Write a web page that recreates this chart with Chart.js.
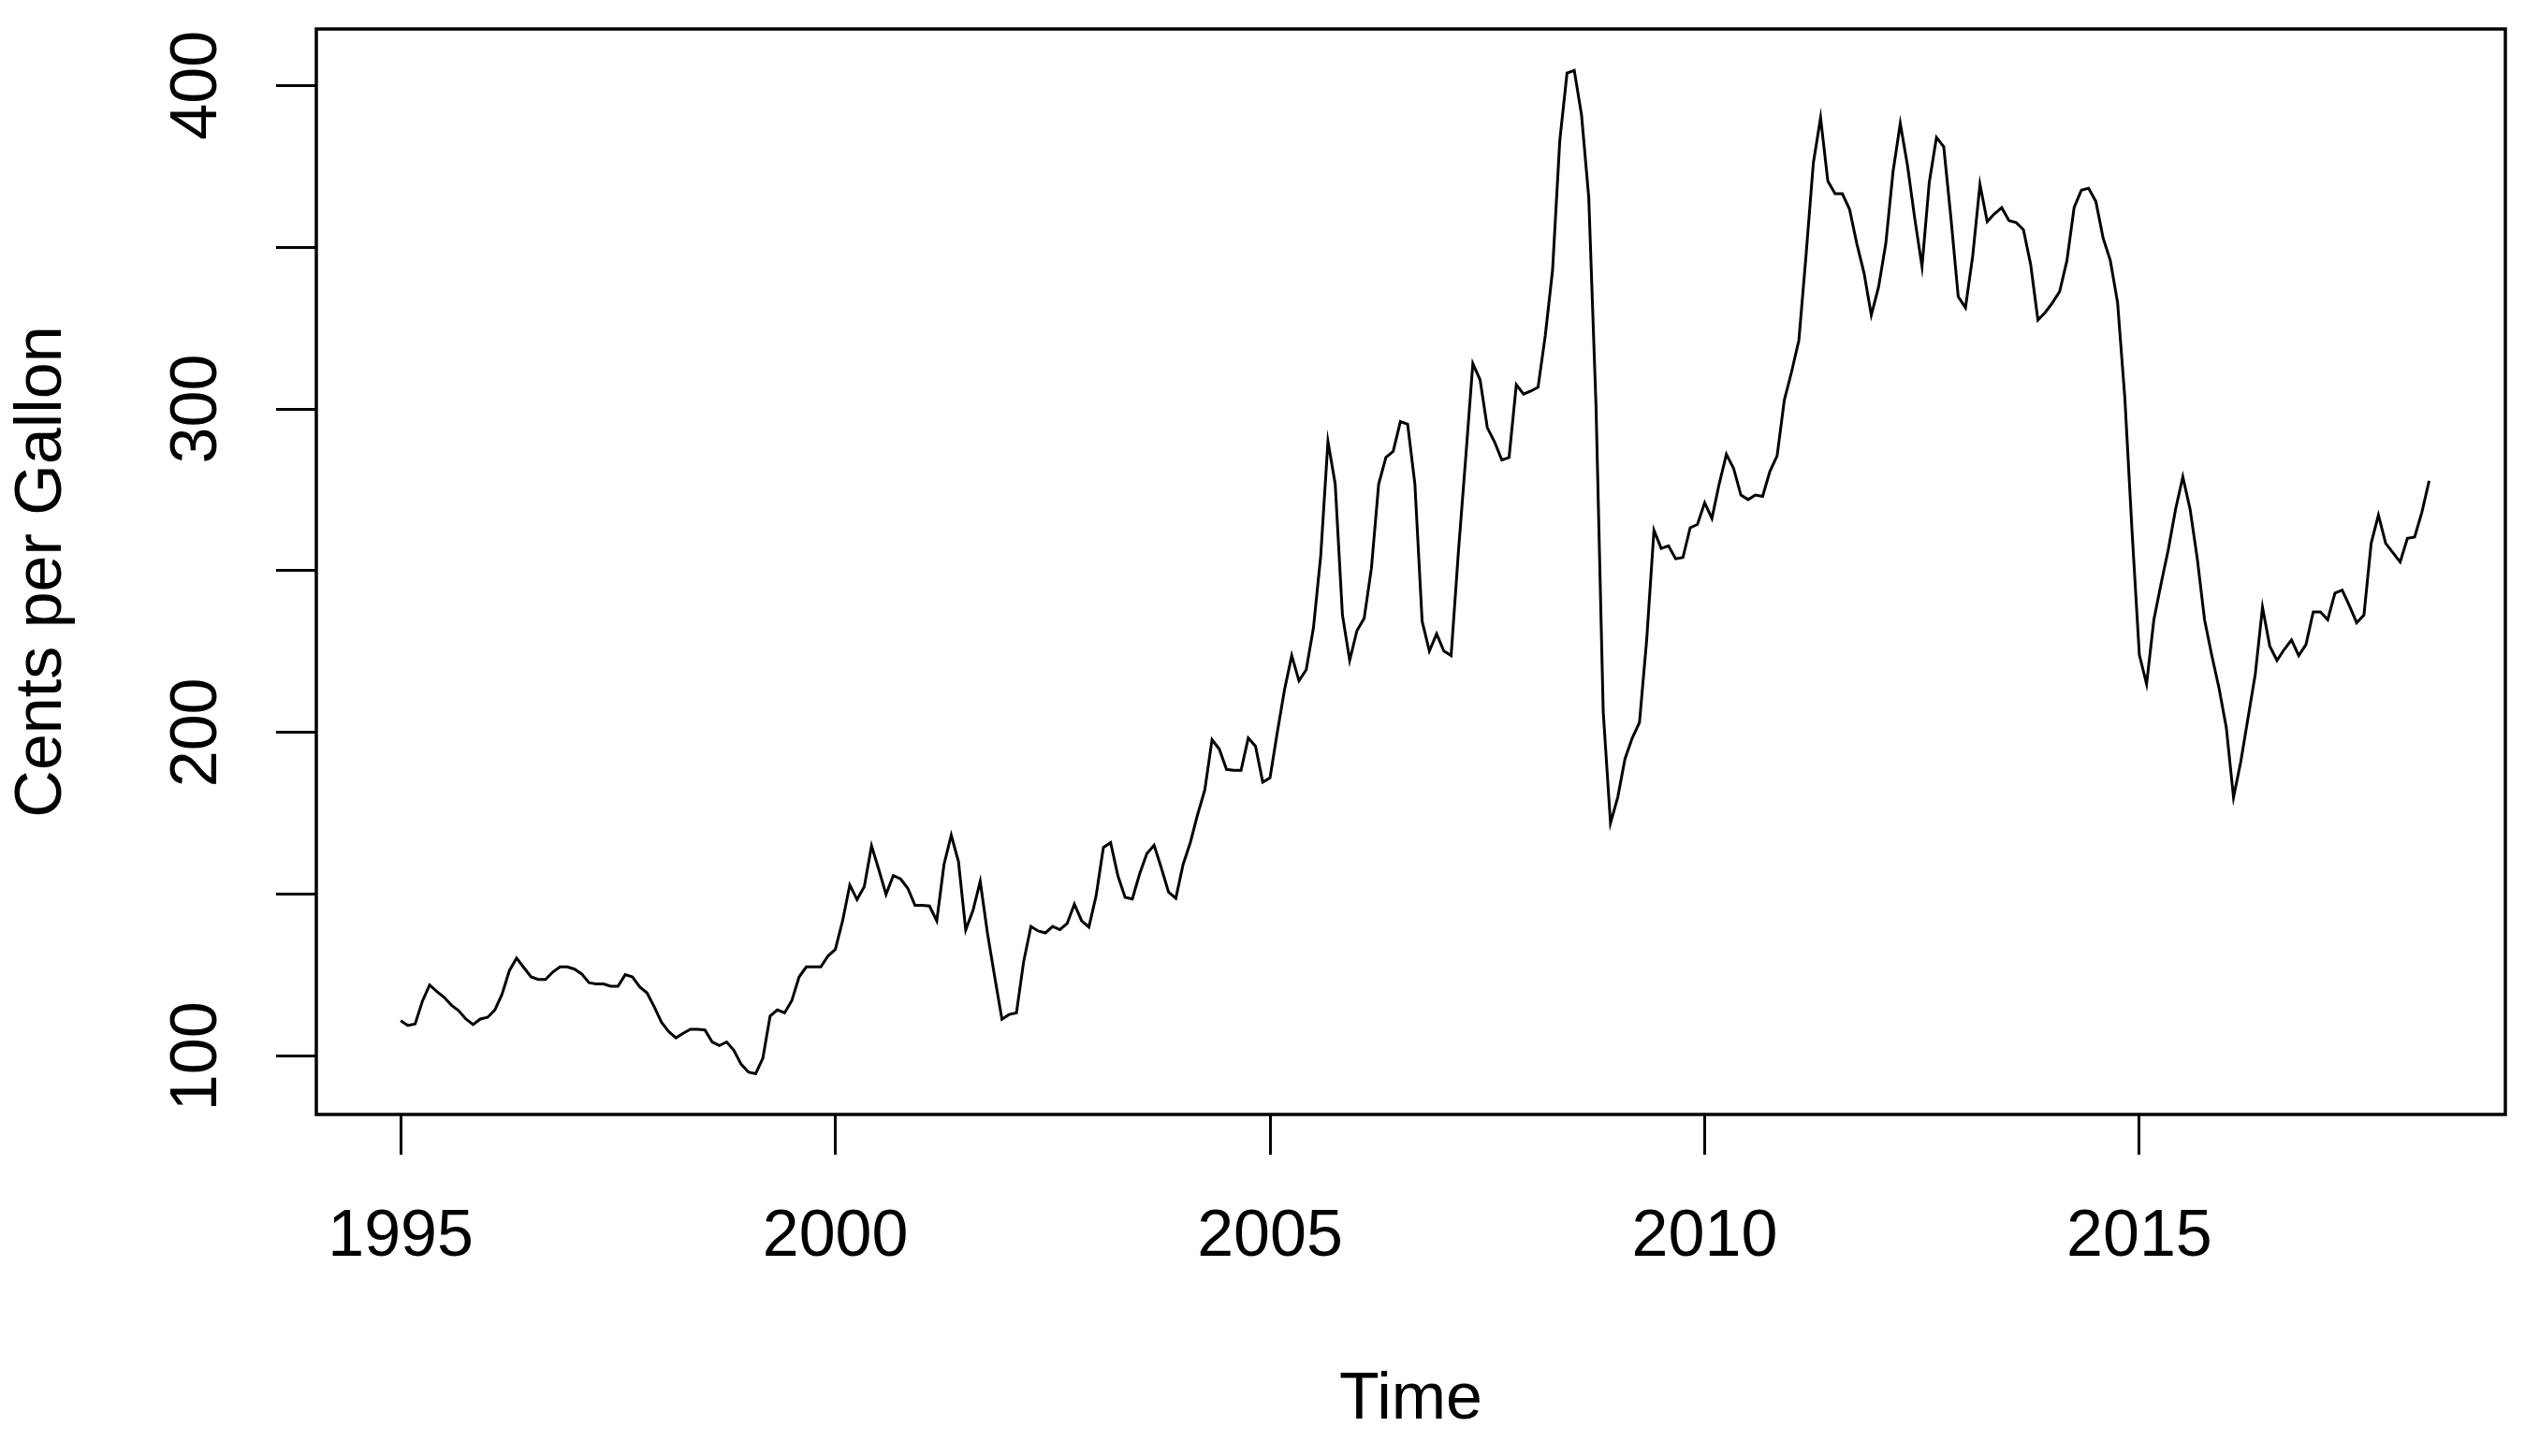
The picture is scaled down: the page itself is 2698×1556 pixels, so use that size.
<!DOCTYPE html>
<html>
<head>
<meta charset="utf-8">
<script src="https://cdn.jsdelivr.net/npm/chart.js@4.4.1/dist/chart.umd.min.js"></script>
<style>
  html, body { margin: 0; padding: 0; background: #fff; }
  #wrap { width: 2698px; height: 1556px; }
</style>
</head>
<body>
<div id="wrap"><canvas id="gasChart"></canvas></div>
<script>
// monthly series, starts Jan 1995
const startYear = 1995;

const prices1995to1999 = [
  111, 109.5, 110, 117, 122, 120, 118.2, 115.8, 114.1, 111.5, 109.8, 111.5,
  112, 114.3, 119.2, 126.4, 130.3, 127.4, 124.5, 123.7, 123.7, 126, 127.6, 127.6,
  126.9, 125.4, 122.7, 122.3, 122.3, 121.6, 121.6, 125.2, 124.5, 121.4, 119.6, 115.3,
  110.5, 107.6, 105.7, 107.1, 108.3, 108.3, 108.1, 104.4, 103.3, 104.4, 101.8, 97.5,
  95.1, 94.6, 99.4, 112.4, 114.3, 113.4, 117.2, 124.5, 127.6, 127.6, 127.6, 131
];
const prices2000to2004 = [
  133, 141.8, 152.9, 148.4, 152.4, 165, 157.7, 150, 155.8, 154.8, 151.9, 146.6,
  146.6, 146.4, 141.8, 159.2, 168.3, 160.1, 139, 145, 154, 138, 124.5, 111.4,
  112.9, 113.4, 129.3, 140.1, 138.7, 138.1, 140.1, 139.1, 141, 147, 141.8, 139.9,
  149.6, 164.5, 166, 155.8, 149.1, 148.6, 156.3, 162.6, 165.2, 158.2, 150.7, 148.8,
  159.2, 166, 174.6, 182.3, 197.8, 194.9, 188.6, 188.3, 188.3, 198.3, 195.8, 184.7
];
const prices2005to2009 = [
  186, 200, 213.2, 223.8, 216, 219.4, 232.4, 254.6, 290, 276.8, 236.3, 222.3,
  231.5, 235.3, 250.8, 276.8, 285, 286.9, 296.1, 295.3, 276.8, 234.4, 225.2, 230.5,
  225.2, 223.8, 255.6, 284.5, 314, 309, 294.2, 289.8, 284.2, 285, 307.5, 304.6,
  305.5, 306.7, 322.7, 342.8, 382.9, 403.8, 404.6, 390.9, 365.3, 301, 206.3, 172,
  180, 191.9, 198.3, 203.1, 228.8, 262.5, 256.9, 257.7, 253.7, 254.1, 263.3, 264.3
];
const prices2010to2014 = [
  271, 266.2, 276.8, 286, 281.6, 273.4, 272, 273.4, 273, 280.7, 285.5, 302.8,
  311.5, 321.2, 347.7, 376, 390, 370.4, 366.5, 366.5, 361.7, 351.1, 342, 329,
  337.6, 351.1, 373.3, 388.2, 375.2, 358.8, 344, 370, 383.9, 381, 358.8, 334.7,
  331.3, 347.3, 369.4, 357.9, 360.3, 362.2, 358.2, 357.6, 355.4, 344.6, 327.5, 329.8,
  332.8, 336.3, 345.8, 362.3, 367.6, 368.2, 364.1, 352.8, 345.8, 332.8, 303.3, 261.9
];
const prices2015to2018 = [
  224, 215, 234.8, 246, 256.6, 269, 279, 269.1, 253.7, 234.9, 223.8, 213.7,
  201.6, 180, 191, 204.5, 218, 238.7, 226.7, 222.3, 225.7, 228.6, 223.8, 227.2,
  237.3, 237.3, 234.9, 243.1, 244, 239.2, 233.9, 236.3, 258.5, 267.2, 258.5, 255.6,
  252.7, 260, 260.4, 268.1, 277.8
];

const xTickYears = [1995, 2000, 2005, 2010, 2015];
const yTickMarks = [100, 150, 200, 250, 300, 350, 400];
const yTickLabels = [100, 200, 300, 400];

const allPrices = [].concat(prices1995to1999, prices2000to2004, prices2005to2009,
  prices2010to2014, prices2015to2018);
const points = allPrices.map((v, i) => ({ x: startYear + i / 12, y: v }));

Chart.defaults.font.family = '"Liberation Sans", Arial, sans-serif';
Chart.defaults.color = '#000';

const boxPlugin = {
  id: 'box',
  afterDraw(chart) {
    const { ctx, chartArea: a } = chart;
    ctx.save();
    ctx.strokeStyle = '#000';
    ctx.lineWidth = 3.5;
    ctx.strokeRect(a.left, a.top, a.right - a.left, a.bottom - a.top);
    ctx.restore();
  }
};

new Chart(document.getElementById('gasChart'), {
  type: 'line',
  data: {
    datasets: [{
      data: points,
      borderColor: '#000',
      borderWidth: 3,
      pointRadius: 0,
      tension: 0,
      fill: false
    }]
  },
  options: {
    responsive: true,
    maintainAspectRatio: false,
    animation: false,
    layout: { padding: { top: 31, right: 21, left: 0, bottom: 0 } },
    plugins: { legend: { display: false }, tooltip: { enabled: false } },
    scales: {
      x: {
        type: 'linear',
        min: 1994.03,
        max: 2019.21,
        afterBuildTicks: s => { s.ticks = xTickYears.map(v => ({ value: v })); },
        afterFit: s => { s.height = 365; s.paddingLeft = 0; s.paddingRight = 0; },
        border: { display: false },
        grid: { drawOnChartArea: false, drawTicks: true, tickLength: 43, color: '#000', lineWidth: 3 },
        ticks: {
          font: { size: 70 },
          padding: 47,
          maxRotation: 0,
          autoSkip: false,
          callback: v => String(v)
        },
        title: { display: true, text: 'Time', font: { size: 70 }, padding: { top: 0, bottom: 17 } }
      },
      y: {
        min: 82,
        max: 417.4,
        afterBuildTicks: s => { s.ticks = yTickMarks.map(v => ({ value: v })); },
        afterFit: s => { s.width = 338; s.paddingTop = 0; s.paddingBottom = 0; },
        border: { display: false },
        grid: { drawOnChartArea: false, drawTicks: true, tickLength: 43, color: '#000', lineWidth: 3 },
        ticks: {
          font: { size: 70 },
          padding: 25,
          minRotation: 90,
          maxRotation: 90,
          crossAlign: 'center',
          autoSkip: false,
          callback: v => yTickLabels.includes(v) ? String(v) : ''
        },
        title: { display: true, text: 'Cents per Gallon', font: { size: 70 }, padding: { top: 4, bottom: 0 } }
      }
    }
  },
  plugins: [boxPlugin]
});
</script>
</body>
</html>
